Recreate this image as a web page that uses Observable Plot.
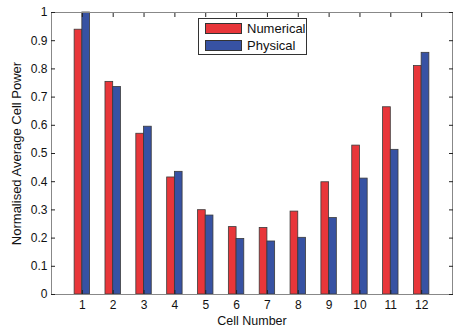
<!DOCTYPE html>
<html><head><meta charset="utf-8">
<script src="https://cdn.jsdelivr.net/npm/d3@7"></script>
<script src="https://cdn.jsdelivr.net/npm/@observablehq/plot@0.6"></script>
<style>
body{margin:0;background:#fff;font-family:"Liberation Sans",Arial,sans-serif;}
#wrap{position:relative;width:454px;height:328px;}
#legend{position:absolute;left:198px;top:18px;width:107px;height:35px;border:1px solid #333;background:#fff;font-size:13px;color:#111;}
.row{position:absolute;left:6px;height:13px;display:flex;align-items:center;}
.sw{width:37px;height:11px;border:1px solid #333;margin-right:5px;box-sizing:border-box;}
</style></head><body><div id="wrap"></div>
<script>
const cells = [1,2,3,4,5,6,7,8,9,10,11,12];
const numerical = [0.939,0.754,0.570,0.415,0.299,0.239,0.236,0.294,0.398,0.528,0.664,0.810];
const physical  = [1.000,0.736,0.595,0.435,0.280,0.197,0.188,0.201,0.271,0.411,0.513,0.857];
const seriesNames = ["Numerical","Physical"];
const seriesColors = ["#e8363a","#3752a3"];
const yTicks = [0,0.1,0.2,0.3,0.4,0.5,0.6,0.7,0.8,0.9,1];

const rows = [];
cells.forEach((c,i)=>{
  rows.push({cell:c, series:seriesNames[0], value:numerical[i], x1:c-0.25, x2:c});
  rows.push({cell:c, series:seriesNames[1], value:physical[i], x1:c, x2:c+0.25});
});

const blank = () => "";
const chart = Plot.plot({
  width:454, height:328,
  marginLeft:51, marginRight:2, marginTop:12, marginBottom:34,
  style:{fontFamily:'"Liberation Sans",Arial,sans-serif', fontSize:"12px", color:"#111", background:"#fff"},
  x:{domain:[0,13]},
  y:{domain:[0,1]},
  color:{domain:seriesNames, range:seriesColors},
  marks:[
    Plot.rectY(rows,{x1:"x1", x2:"x2", y1:0, y2:"value", fill:"series", stroke:"#3a3a3a", strokeWidth:0.8}),
    Plot.frame({stroke:"#888"}),
    Plot.axisX({anchor:"bottom", ticks:cells, tickSize:-4, tickPadding:10, stroke:"#222", label:null, fontSize:12}),
    Plot.axisX({anchor:"bottom", ticks:[], label:"Cell Number", labelAnchor:"center", labelArrow:"none", labelOffset:30, fontSize:12.5}),
    Plot.axisX({anchor:"top", ticks:cells, tickSize:-4, stroke:"#222", tickFormat:blank, label:null}),
    Plot.axisY({anchor:"left", ticks:yTicks, tickSize:-4, tickPadding:8, stroke:"#222", tickFormat:d=>String(d), label:null, fontSize:12}),
    Plot.axisY({anchor:"left", ticks:[], label:"Normalised Average Cell Power", labelAnchor:"center", labelArrow:"none", labelOffset:40, fontSize:13}),
    Plot.axisY({anchor:"right", ticks:yTicks, tickSize:-4, stroke:"#222", tickFormat:blank, label:null})
  ]
});
const wrap = document.getElementById("wrap");
wrap.appendChild(chart);
const legend = document.createElement("div");
legend.id = "legend";
seriesNames.forEach((name,i)=>{
  const r = document.createElement("div");
  r.className = "row";
  r.style.top = (3 + i*17) + "px";
  const sw = document.createElement("div");
  sw.className = "sw";
  sw.style.background = seriesColors[i];
  r.appendChild(sw);
  const t = document.createElement("span");
  t.textContent = name;
  r.appendChild(t);
  legend.appendChild(r);
});
wrap.appendChild(legend);
</script></body></html>
